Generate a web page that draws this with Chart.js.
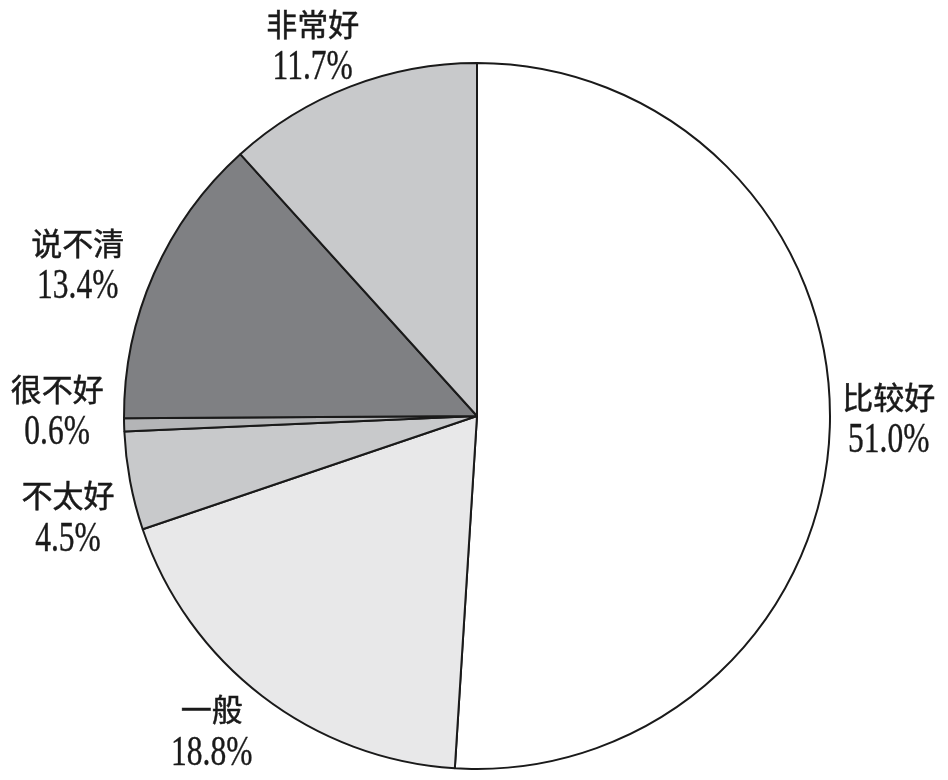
<!DOCTYPE html>
<html>
<head>
<meta charset="utf-8">
<title>pie</title>
<script src="https://cdn.jsdelivr.net/npm/chart.js@4/dist/chart.umd.min.js"></script>
<style>
  html, body { margin: 0; padding: 0; background: #fff; }
  #box { width: 948px; height: 780px; }
</style>
</head>
<body>
<div id="box"><canvas id="pieChart"></canvas></div>
<script>
// data
const labels = ['比较好', '一般', '不太好', '很不好', '说不清', '非常好'];
const values = [51.0, 18.8, 4.5, 0.6, 13.4, 11.7];
const fills = ['#ffffff', '#e8e8e9', '#c8c9cb', '#b4b5b7', '#7f8083', '#c8c9cb'];

// small hand nudges for each label (px), from the spot on the mid angle
const labelNudge = [[2, -11], [-16, -11], [-6, 25], [-10, -16], [-24, 13], [-17, 12]];

// labels outside the pie, name on top and percent below
const outsideLabels = {
    id: 'outsideLabels',
    afterDraw(chart) {
        const ctx = chart.ctx;
        const arcs = chart.getDatasetMeta(0).data;
        ctx.save();
        ctx.fillStyle = '#1a1a1a';
        ctx.strokeStyle = '#1a1a1a';
        ctx.textAlign = 'center';
        ctx.textBaseline = 'middle';
        arcs.forEach((arc, i) => {
            const mid = (arc.startAngle + arc.endAngle) / 2;
            const r = arc.outerRadius + 57;
            const x = arc.x + Math.cos(mid) * r + labelNudge[i][0];
            const y = arc.y + Math.sin(mid) * r + labelNudge[i][1];

            ctx.font = '31px "Noto Sans CJK SC", sans-serif';
            ctx.lineWidth = 0.5;
            ctx.fillText(labels[i], x, y - 21);
            ctx.strokeText(labels[i], x, y - 21);

            // percent text is tall and narrow in the original
            ctx.save();
            ctx.translate(x, y + 23);
            ctx.scale(0.75, 1);
            ctx.font = '42px "Liberation Serif", serif';
            ctx.lineWidth = 0.4;
            ctx.fillText(values[i].toFixed(1) + '%', 0, 0);
            ctx.strokeText(values[i].toFixed(1) + '%', 0, 0);
            ctx.restore();
        });
        ctx.restore();
    }
};

document.addEventListener('DOMContentLoaded', function() {
    const ctx = document.getElementById('pieChart').getContext('2d');
    new Chart(ctx, {
        type: 'pie',
        data: {
            labels: labels,
            datasets: [{
                data: values,
                backgroundColor: fills,
                borderColor: '#1a1a1a',
                borderWidth: 2,
                hoverOffset: 0
            }]
        },
        options: {
            responsive: true,
            maintainAspectRatio: false,
            animation: false,
            layout: { padding: { top: 62, bottom: 10, left: 123, right: 117 } },
            plugins: {
                legend: { display: false },
                tooltip: { enabled: false }
            }
        },
        plugins: [outsideLabels]
    });
});
</script>
</body>
</html>
